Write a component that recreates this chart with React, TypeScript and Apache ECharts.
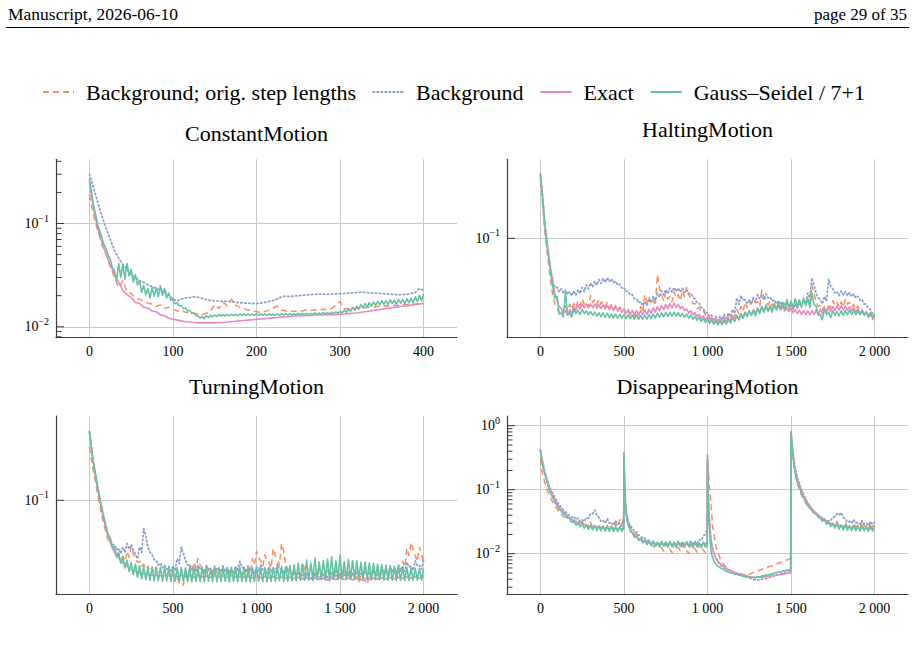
import React, { useEffect, useRef } from 'react';
import * as echarts from 'echarts';

const SERIF = '"Liberation Serif", "DejaVu Serif", serif';

const NAMES = ['Background; orig. step lengths', 'Background', 'Exact', 'Gauss\u2013Seidel / 7+1'];
const COLORS = ['#fc8d62', '#8da0cb', '#e78ac3', '#66c2a5'];

// uniform iteration grid
function steps(from: number, to: number, by: number): number[] {
  const out: number[] = [];
  for (let v = from; v <= to; v += by) out.push(v);
  return out;
}

// Noisy residuals are stored as the upper edge (at each sampled iteration) and
// the lower edge (halfway to the next sampled iteration) of their oscillation.

// ---------- ConstantMotion (iterations 0..400, every 5) ----------
const constantIter = steps(0, 400, 5);
const constantBgOrig = [
  0.19, 0.12, 0.085, 0.062, 0.05, 0.038, 0.03, 0.024, 0.028, 0.022,
  0.021, 0.019, 0.0185, 0.0175, 0.017, 0.0165, 0.0158, 0.0163, 0.015, 0.0155,
  0.0148, 0.0142, 0.0145, 0.0138, 0.0136, 0.0135, 0.0133, 0.0132, 0.0135, 0.0142,
  0.0165, 0.015, 0.0172, 0.016, 0.0185, 0.0162, 0.0155, 0.015, 0.0145, 0.0142,
  0.014, 0.0138, 0.014, 0.0145, 0.0152, 0.0158, 0.0145, 0.0142, 0.014, 0.0141,
  0.0143, 0.0142, 0.0145, 0.0144, 0.0146, 0.0145, 0.0148, 0.0146, 0.015, 0.0162,
  0.0175, 0.015, 0.0148, 0.015, 0.0152, 0.0151, 0.0153, 0.0155, 0.0154, 0.0158,
  0.0156, 0.016, 0.0158, 0.0162, 0.016, 0.0164, 0.0163, 0.0166, 0.0165, 0.0168,
  0.0172,
];
const constantBg = [
  0.30, 0.22, 0.16, 0.118, 0.09, 0.07, 0.055, 0.046, 0.04, 0.036,
  0.032, 0.03, 0.028, 0.027, 0.0255, 0.0245, 0.0235, 0.0225, 0.0215, 0.0205,
  0.0185, 0.0178, 0.0185, 0.019, 0.0192, 0.0195, 0.0193, 0.0188, 0.0183, 0.018,
  0.0178, 0.0177, 0.0177, 0.0176, 0.0175, 0.0173, 0.0171, 0.017, 0.0169, 0.0168,
  0.0168, 0.0169, 0.0172, 0.0176, 0.018, 0.0186, 0.0195, 0.0198, 0.0196, 0.0198,
  0.02, 0.0202, 0.0203, 0.0205, 0.0206, 0.0207, 0.0207, 0.0206, 0.0207, 0.0208,
  0.0209, 0.021, 0.0212, 0.0213, 0.0215, 0.0216, 0.0215, 0.0213, 0.0212, 0.0211,
  0.021, 0.0208, 0.0207, 0.0205, 0.0204, 0.0205, 0.0207, 0.021, 0.0215, 0.0235,
  0.0225,
];
const constantExact = [
  0.25, 0.14, 0.09, 0.066, 0.05, 0.04, 0.032, 0.027, 0.0225, 0.0205,
  0.0192, 0.0172, 0.0168, 0.0154, 0.0152, 0.0142, 0.014, 0.013, 0.0128, 0.0121,
  0.0118, 0.0116, 0.0114, 0.0112, 0.0111, 0.011, 0.0109, 0.0109, 0.0109, 0.0109,
  0.0109, 0.011, 0.011, 0.0111, 0.0112, 0.0113, 0.0114, 0.0115, 0.0116, 0.0117,
  0.0118, 0.0119, 0.012, 0.0121, 0.0122, 0.0123, 0.0124, 0.0125, 0.0126, 0.0127,
  0.0128, 0.0128, 0.0129, 0.0129, 0.013, 0.013, 0.013, 0.0131, 0.0131, 0.0131,
  0.0132, 0.0133, 0.0134, 0.0135, 0.0136, 0.0138, 0.014, 0.0142, 0.0144, 0.0146,
  0.0148, 0.015, 0.0152, 0.0154, 0.0156, 0.0158, 0.016, 0.0162, 0.0164, 0.0166,
  0.0168,
];
const constantGSHi = [
  0.27, 0.15, 0.098, 0.073, 0.057, 0.045, 0.035, 0.041, 0.04, 0.041,
  0.036, 0.032, 0.028, 0.0252, 0.0235, 0.024, 0.0238, 0.025, 0.0235, 0.0212,
  0.0183, 0.0171, 0.0161, 0.0152, 0.0144, 0.0136, 0.0128, 0.0126, 0.0128, 0.0129,
  0.013, 0.0131, 0.0131, 0.0132, 0.0132, 0.0132, 0.0133, 0.0133, 0.0133, 0.0133,
  0.0133, 0.0133, 0.0133, 0.0133, 0.0133, 0.0133, 0.0134, 0.0134, 0.0134, 0.0134,
  0.0135, 0.0135, 0.0135, 0.0135, 0.0136, 0.0136, 0.0137, 0.0137, 0.0138, 0.0139,
  0.0141, 0.0145, 0.0149, 0.0154, 0.0158, 0.0164, 0.0168, 0.0171, 0.0174, 0.0176,
  0.0179, 0.0179, 0.0182, 0.0181, 0.0184, 0.0183, 0.0187, 0.0188, 0.0195, 0.0202,
  0.0208,
];
const constantGSLo = [
  0.2, 0.12, 0.083, 0.062, 0.049, 0.037, 0.028, 0.03, 0.029, 0.031,
  0.027, 0.0255, 0.0215, 0.0203, 0.019, 0.0198, 0.0195, 0.0202, 0.019, 0.018,
  0.0167, 0.0159, 0.015, 0.0142, 0.0135, 0.0128, 0.0121, 0.012, 0.0123, 0.0125,
  0.0126, 0.0127, 0.0127, 0.0128, 0.0128, 0.0128, 0.0129, 0.0129, 0.0129, 0.0129,
  0.0129, 0.0129, 0.0129, 0.0129, 0.0129, 0.0129, 0.013, 0.013, 0.013, 0.013,
  0.0131, 0.0131, 0.0131, 0.0131, 0.0132, 0.0132, 0.0133, 0.0133, 0.0134, 0.0135,
  0.0136, 0.0138, 0.0141, 0.0144, 0.0148, 0.0152, 0.0155, 0.0158, 0.0161, 0.0163,
  0.0165, 0.0164, 0.0168, 0.0166, 0.0169, 0.0167, 0.017, 0.017, 0.0175, 0.0179,
  0.0185,
];

// ---------- HaltingMotion (iterations 0..2000, every 25) ----------
const haltingIter = steps(0, 2000, 25);
const haltingBgOrigHi = [
  0.36, 0.12, 0.055, 0.028, 0.0215, 0.021, 0.0225, 0.0235, 0.024, 0.0255,
  0.0265, 0.0245, 0.0285, 0.026, 0.0265, 0.025, 0.0245, 0.0235, 0.023, 0.0222,
  0.021, 0.0205, 0.0195, 0.020, 0.0225, 0.029, 0.0275, 0.026, 0.045, 0.029,
  0.0305, 0.028, 0.031, 0.029, 0.032, 0.034, 0.027, 0.024, 0.022, 0.0205,
  0.019, 0.0175, 0.017, 0.0172, 0.0178, 0.0185, 0.0195, 0.021, 0.0225, 0.0245,
  0.026, 0.0275, 0.025, 0.032, 0.026, 0.0255, 0.024, 0.0245, 0.0238, 0.0232,
  0.0235, 0.0245, 0.025, 0.0262, 0.028, 0.036, 0.025, 0.023, 0.0225, 0.024,
  0.0255, 0.0245, 0.0248, 0.0265, 0.0245, 0.0235, 0.0225, 0.021, 0.0195, 0.0185,
  0.0178,
];
const haltingBgOrigLo = [
  0.22, 0.08, 0.038, 0.0235, 0.0195, 0.019, 0.0205, 0.0212, 0.0218, 0.0228,
  0.0235, 0.0222, 0.0245, 0.0232, 0.0236, 0.0225, 0.022, 0.0212, 0.0208, 0.0201,
  0.019, 0.0186, 0.0178, 0.0182, 0.0198, 0.0245, 0.0238, 0.0228, 0.034, 0.0252,
  0.0265, 0.0248, 0.027, 0.0255, 0.0278, 0.029, 0.0238, 0.0215, 0.0198, 0.0186,
  0.0172, 0.016, 0.0155, 0.0156, 0.0161, 0.0168, 0.0177, 0.019, 0.0202, 0.0218,
  0.0232, 0.0242, 0.0225, 0.0275, 0.0232, 0.0228, 0.0216, 0.022, 0.0214, 0.0209,
  0.0211, 0.022, 0.0224, 0.0234, 0.0248, 0.03, 0.0224, 0.0207, 0.0203, 0.0215,
  0.0228, 0.022, 0.0222, 0.0236, 0.022, 0.0211, 0.0203, 0.019, 0.0177, 0.0168,
  0.0162,
];
const haltingBgHi = [
  0.41, 0.15, 0.065, 0.038, 0.034, 0.033, 0.032, 0.031, 0.0315, 0.0325,
  0.034, 0.036, 0.0375, 0.039, 0.0405, 0.0415, 0.042, 0.041, 0.039, 0.0365,
  0.034, 0.0315, 0.029, 0.0265, 0.025, 0.025, 0.0265, 0.028, 0.03, 0.0315,
  0.0325, 0.0335, 0.034, 0.0335, 0.0335, 0.0325, 0.03, 0.0265, 0.024, 0.0215,
  0.0195, 0.0185, 0.018, 0.0182, 0.0188, 0.0195, 0.021, 0.027, 0.0285, 0.026,
  0.0255, 0.027, 0.029, 0.0285, 0.0295, 0.0275, 0.026, 0.0255, 0.025, 0.0245,
  0.024, 0.0235, 0.0245, 0.026, 0.03, 0.042, 0.03, 0.026, 0.028, 0.041,
  0.033, 0.031, 0.0315, 0.031, 0.0305, 0.0295, 0.028, 0.026, 0.0235, 0.021,
  0.0195,
];
const haltingBgLo = [
  0.26, 0.1, 0.05, 0.034, 0.031, 0.030, 0.0292, 0.0284, 0.0288, 0.0297,
  0.0311, 0.033, 0.0344, 0.0358, 0.0372, 0.0381, 0.0386, 0.0377, 0.0358, 0.0335,
  0.0312, 0.0289, 0.0266, 0.0243, 0.0229, 0.0229, 0.0243, 0.0257, 0.0275, 0.0289,
  0.0298, 0.0307, 0.0312, 0.0307, 0.0307, 0.0298, 0.0275, 0.0243, 0.022, 0.0197,
  0.0179, 0.017, 0.0165, 0.0167, 0.0172, 0.0179, 0.0193, 0.0235, 0.0258, 0.0238,
  0.0234, 0.0247, 0.0265, 0.026, 0.027, 0.0252, 0.0238, 0.0234, 0.0229, 0.0224,
  0.022, 0.0215, 0.0224, 0.0238, 0.027, 0.036, 0.0272, 0.0238, 0.0254, 0.035,
  0.0302, 0.0284, 0.0289, 0.0284, 0.0279, 0.027, 0.0257, 0.0238, 0.0215, 0.0192,
  0.0179,
];
const haltingExactHi = [
  0.40, 0.145, 0.068, 0.037, 0.0255, 0.0215, 0.0205, 0.021, 0.0225, 0.0232,
  0.0237, 0.0238, 0.0238, 0.0236, 0.0234, 0.0232, 0.023, 0.0226, 0.0222, 0.0217,
  0.0212, 0.0209, 0.0206, 0.0205, 0.0205, 0.0207, 0.0211, 0.0217, 0.0223, 0.0229,
  0.0234, 0.0239, 0.0241, 0.0235, 0.0225, 0.0213, 0.0204, 0.0196, 0.0189, 0.0183,
  0.0178, 0.0173, 0.0171, 0.017, 0.0172, 0.0175, 0.018, 0.0185, 0.019, 0.0197,
  0.0204, 0.021, 0.0217, 0.0222, 0.0225, 0.0227, 0.0228, 0.0227, 0.0224, 0.022,
  0.0215, 0.021, 0.0207, 0.0205, 0.0204, 0.0205, 0.0207, 0.0211, 0.0216, 0.022,
  0.0224, 0.0227, 0.0228, 0.0227, 0.0223, 0.0218, 0.0211, 0.0205, 0.02, 0.0196,
  0.0193,
];
const haltingExactLo = [
  0.25, 0.095, 0.048, 0.029, 0.0222, 0.0195, 0.0185, 0.019, 0.0205, 0.0212,
  0.0216, 0.0218, 0.0218, 0.0216, 0.0214, 0.0212, 0.021, 0.0206, 0.0202, 0.0197,
  0.0193, 0.019, 0.0188, 0.0187, 0.0187, 0.0189, 0.0193, 0.0198, 0.0204, 0.0209,
  0.0213, 0.0218, 0.022, 0.0214, 0.0205, 0.0194, 0.0186, 0.0179, 0.0173, 0.0167,
  0.0162, 0.0158, 0.0156, 0.0155, 0.0157, 0.016, 0.0164, 0.0169, 0.0174, 0.018,
  0.0186, 0.0192, 0.0198, 0.0203, 0.0206, 0.0207, 0.0208, 0.0207, 0.0204, 0.02,
  0.0196, 0.0192, 0.0189, 0.0187, 0.0186, 0.0187, 0.0189, 0.0193, 0.0197, 0.0201,
  0.0205, 0.0207, 0.0208, 0.0207, 0.0204, 0.0199, 0.0193, 0.0187, 0.0183, 0.0179,
  0.0177,
];
const haltingGSHi = [
  0.40, 0.14, 0.065, 0.034, 0.028, 0.0195, 0.031, 0.0195, 0.0212, 0.0206,
  0.021, 0.0204, 0.0201, 0.0198, 0.0196, 0.0194, 0.0193, 0.0191, 0.019, 0.0189,
  0.0188, 0.0187, 0.0186, 0.0185, 0.0185, 0.0186, 0.0188, 0.019, 0.0193, 0.0195,
  0.0197, 0.0198, 0.0198, 0.0196, 0.0194, 0.019, 0.0186, 0.0181, 0.0177, 0.0173,
  0.0169, 0.0166, 0.0164, 0.0163, 0.0166, 0.017, 0.0176, 0.0183, 0.0192, 0.0198,
  0.0205, 0.0204, 0.0216, 0.0224, 0.0232, 0.0226, 0.0238, 0.0246, 0.0242, 0.026,
  0.0252, 0.0266, 0.026, 0.027, 0.0262, 0.03, 0.0225, 0.019, 0.0215, 0.0198,
  0.0204, 0.0201, 0.0204, 0.0206, 0.0207, 0.0205, 0.0206, 0.0202, 0.0198, 0.0193,
  0.019,
];
const haltingGSLo = [
  0.24, 0.09, 0.045, 0.027, 0.019, 0.0178, 0.0185, 0.0178, 0.0192, 0.0188,
  0.0192, 0.0187, 0.0184, 0.0181, 0.0179, 0.0177, 0.0176, 0.0175, 0.0174, 0.0173,
  0.0172, 0.0171, 0.017, 0.0169, 0.0169, 0.017, 0.0172, 0.0174, 0.0177, 0.0179,
  0.018, 0.0181, 0.0181, 0.0179, 0.0177, 0.0174, 0.017, 0.0166, 0.0162, 0.0158,
  0.0155, 0.0152, 0.015, 0.015, 0.0152, 0.0156, 0.0161, 0.0167, 0.0174, 0.0179,
  0.0184, 0.0183, 0.0192, 0.0197, 0.0202, 0.0197, 0.0206, 0.0212, 0.0208, 0.0222,
  0.0215, 0.0226, 0.022, 0.0228, 0.022, 0.0235, 0.0185, 0.0168, 0.0188, 0.0176,
  0.0185, 0.0182, 0.0185, 0.0187, 0.0188, 0.0186, 0.0187, 0.0184, 0.018, 0.0175,
  0.0172,
];

// ---------- TurningMotion (iterations 0..2000, every 25) ----------
const turningIter = steps(0, 2000, 25);
const turningBgOrigHi = [
  0.34, 0.19, 0.11, 0.068, 0.046, 0.037, 0.032, 0.029, 0.0275, 0.031,
  0.0345, 0.027, 0.0245, 0.023, 0.022, 0.021, 0.0215, 0.0198, 0.0205, 0.019,
  0.018, 0.0168, 0.0155, 0.0185, 0.0215, 0.024, 0.0262, 0.021, 0.0225, 0.020,
  0.021, 0.0198, 0.0222, 0.0205, 0.0212, 0.0198, 0.0202, 0.0215, 0.0208, 0.026,
  0.031, 0.025, 0.0285, 0.024, 0.033, 0.026, 0.037, 0.023, 0.0198, 0.0205,
  0.019, 0.024, 0.0195, 0.0215, 0.0185, 0.021, 0.0178, 0.0198, 0.0182, 0.020,
  0.0185, 0.0195, 0.018, 0.0192, 0.0172, 0.0178, 0.0158, 0.0182, 0.0195, 0.0182,
  0.0205, 0.019, 0.0215, 0.0195, 0.022, 0.0245, 0.033, 0.038, 0.028, 0.034,
  0.024,
];
const turningBgOrigLo = [
  0.25, 0.15, 0.09, 0.058, 0.04, 0.033, 0.0288, 0.026, 0.0245, 0.027,
  0.029, 0.024, 0.0218, 0.0205, 0.0195, 0.0187, 0.019, 0.0177, 0.0182, 0.017,
  0.016, 0.015, 0.0142, 0.0163, 0.0188, 0.021, 0.0225, 0.0186, 0.0198, 0.0178,
  0.0186, 0.0176, 0.0195, 0.0182, 0.0188, 0.0176, 0.0179, 0.019, 0.0184, 0.0225,
  0.0265, 0.0218, 0.0245, 0.021, 0.028, 0.0225, 0.031, 0.0202, 0.0176, 0.0182,
  0.0169, 0.0208, 0.0173, 0.019, 0.0165, 0.0186, 0.0159, 0.0176, 0.0162, 0.0177,
  0.0165, 0.0173, 0.016, 0.017, 0.0154, 0.0158, 0.0145, 0.0162, 0.0173, 0.0162,
  0.0182, 0.0169, 0.019, 0.0173, 0.0195, 0.0215, 0.028, 0.032, 0.0245, 0.029,
  0.0212,
];
const turningBgHi = [
  0.49, 0.235, 0.135, 0.082, 0.054, 0.041, 0.036, 0.033, 0.034, 0.037,
  0.036, 0.029, 0.034, 0.052, 0.034, 0.0285, 0.025, 0.0235, 0.0225, 0.0218,
  0.022, 0.026, 0.034, 0.025, 0.023, 0.0215, 0.0225, 0.021, 0.0222, 0.0208,
  0.022, 0.0212, 0.0218, 0.021, 0.0205, 0.022, 0.0245, 0.021, 0.0222, 0.0205,
  0.0215, 0.0225, 0.0208, 0.0215, 0.021, 0.0232, 0.0205, 0.0215, 0.0195, 0.0188,
  0.0192, 0.0178, 0.0185, 0.0172, 0.0188, 0.0175, 0.0182, 0.0172, 0.0188, 0.0178,
  0.0185, 0.0182, 0.0192, 0.0185, 0.0195, 0.0188, 0.0198, 0.0192, 0.0205, 0.0198,
  0.021, 0.0202, 0.0215, 0.0208, 0.0225, 0.0215, 0.024, 0.022, 0.0248, 0.0225,
  0.0252,
];
const turningBgLo = [
  0.33, 0.18, 0.106, 0.067, 0.046, 0.036, 0.032, 0.0295, 0.0302, 0.0325,
  0.0318, 0.026, 0.0302, 0.044, 0.0302, 0.0255, 0.0225, 0.0212, 0.0203, 0.0197,
  0.0198, 0.0232, 0.0295, 0.0225, 0.0207, 0.0194, 0.0203, 0.019, 0.02, 0.0188,
  0.0198, 0.0191, 0.0197, 0.019, 0.0185, 0.0198, 0.0215, 0.019, 0.02, 0.0185,
  0.0194, 0.0202, 0.0188, 0.0194, 0.019, 0.0206, 0.0185, 0.0194, 0.0177, 0.0171,
  0.0174, 0.0162, 0.0168, 0.0157, 0.0171, 0.0159, 0.0165, 0.0157, 0.0171, 0.0162,
  0.0168, 0.0165, 0.0174, 0.0168, 0.0177, 0.0171, 0.018, 0.0174, 0.0186, 0.018,
  0.019, 0.0183, 0.0195, 0.0189, 0.0203, 0.0195, 0.0215, 0.0199, 0.0222, 0.0204,
  0.0225,
];
const turningExact = [
  0.48, 0.228, 0.128, 0.078, 0.051, 0.038, 0.030, 0.0265, 0.0237, 0.022,
  0.0204, 0.0195, 0.0188, 0.0183, 0.0180, 0.0178, 0.0177, 0.0176, 0.0176, 0.0175,
  0.0178, 0.0172, 0.0177, 0.0171, 0.0176, 0.0170, 0.0176, 0.0171, 0.0175, 0.0170,
  0.0176, 0.0170, 0.0175, 0.0169, 0.0176, 0.0170, 0.0174, 0.0169, 0.0175, 0.0168,
  0.0174, 0.0168, 0.0173, 0.0167, 0.0172, 0.0166, 0.0171, 0.0165, 0.0170, 0.0164,
  0.0169, 0.0163, 0.0168, 0.0162, 0.0167, 0.0161, 0.0166, 0.0160, 0.0166, 0.0161,
  0.0167, 0.0161, 0.0166, 0.0160, 0.0165, 0.0160, 0.0166, 0.0161, 0.0167, 0.0162,
  0.0168, 0.0163, 0.0169, 0.0164, 0.0170, 0.0165, 0.0171, 0.0166, 0.0172, 0.0167,
  0.0172,
];
const turningGSHi = [
  0.49, 0.235, 0.135, 0.082, 0.055, 0.042, 0.034, 0.03, 0.0272, 0.0252,
  0.0238, 0.023, 0.0222, 0.0218, 0.0214, 0.0216, 0.0213, 0.0215, 0.0212, 0.0214,
  0.0216, 0.0212, 0.0214, 0.0211, 0.0215, 0.0212, 0.021, 0.0214, 0.0213, 0.0209,
  0.0212, 0.021, 0.0208, 0.0212, 0.0214, 0.021, 0.0215, 0.0211, 0.0208, 0.0211,
  0.0215, 0.021, 0.0212, 0.0214, 0.0213, 0.0216, 0.0219, 0.0217, 0.0223, 0.0226,
  0.0235, 0.0228, 0.0252, 0.0237, 0.0265, 0.0243, 0.025, 0.0258, 0.0272, 0.0248,
  0.0284, 0.0244, 0.0256, 0.025, 0.025, 0.0239, 0.0241, 0.0237, 0.0235, 0.023,
  0.0228, 0.0225, 0.0222, 0.022, 0.0216, 0.0215, 0.0213, 0.0211, 0.0209, 0.0208,
  0.0206,
];
const turningGSLo = [
  0.33, 0.175, 0.104, 0.065, 0.045, 0.034, 0.027, 0.0235, 0.021, 0.0194,
  0.018, 0.017, 0.0164, 0.016, 0.0158, 0.0157, 0.0156, 0.0155, 0.0156, 0.0154,
  0.0155, 0.0153, 0.0155, 0.0154, 0.0153, 0.0155, 0.0154, 0.0153, 0.0155, 0.0154,
  0.0153, 0.0154, 0.0155, 0.0153, 0.0154, 0.0153, 0.0155, 0.0154, 0.0153, 0.0154,
  0.0155, 0.0154, 0.0153, 0.0154, 0.0155, 0.0156, 0.0154, 0.0155, 0.0156, 0.0157,
  0.0158, 0.0159, 0.016, 0.0161, 0.0162, 0.0162, 0.0163, 0.0162, 0.0163, 0.0164,
  0.0164, 0.0163, 0.0164, 0.0163, 0.0162, 0.0162, 0.0161, 0.0161, 0.016, 0.016,
  0.0159, 0.0159, 0.0158, 0.0158, 0.0158, 0.0157, 0.0158, 0.0158, 0.0159, 0.0159,
  0.016,
];

// ---------- DisappearingMotion (denser sampling around the restarts) ----------
const disappearingIter = [
  0, 10, 20, 30, 40, 50, 75, 100, 125, 150, 175, 200, 225, 250, 275, 300, 325, 350, 375, 400, 425, 450, 475, 498,
  500, 505, 510, 520, 530, 550, 575, 600, 625, 650, 675, 700, 725, 750, 775, 800, 825, 850, 875, 900, 925, 950, 975, 998,
  1000, 1005, 1010, 1020, 1030, 1050, 1075, 1100, 1125, 1150, 1175, 1200, 1225, 1250, 1275, 1300, 1325, 1350, 1375, 1400, 1425, 1450, 1475, 1498,
  1500, 1505, 1510, 1520, 1530, 1550, 1575, 1600, 1625, 1650, 1675, 1700, 1725, 1750, 1775, 1800, 1825, 1850, 1875, 1900, 1925, 1950, 1975, 2000,
];
const disappearingBgOrigHi = [
  0.30, 0.19, 0.15, 0.12, 0.1, 0.085, 0.063, 0.05, 0.042, 0.037, 0.034, 0.031, 0.03, 0.032, 0.028, 0.031, 0.027, 0.029, 0.026, 0.028, 0.027, 0.03, 0.034, 0.036,
  0.30, 0.12, 0.06, 0.038, 0.03, 0.024, 0.02, 0.0175, 0.0155, 0.0165, 0.0135, 0.015, 0.0125, 0.0145, 0.0118, 0.0148, 0.0125, 0.014, 0.0112, 0.0145, 0.012, 0.0142, 0.0115, 0.0135,
  0.28, 0.2, 0.12, 0.06, 0.028, 0.013, 0.0085, 0.0066, 0.0058, 0.0053, 0.005, 0.0048, 0.0047, 0.0048, 0.0051, 0.0054, 0.0057, 0.006, 0.0064, 0.0067, 0.0071, 0.0075, 0.008, 0.0084,
  0.75, 0.5, 0.35, 0.22, 0.15, 0.1, 0.07, 0.056, 0.047, 0.04, 0.036, 0.033, 0.031, 0.029, 0.032, 0.028, 0.031, 0.027, 0.03, 0.028, 0.033, 0.027, 0.031, 0.028,
];
const disappearingBgOrigLo = [
  0.23, 0.165, 0.133, 0.108, 0.092, 0.072, 0.055, 0.045, 0.038, 0.034, 0.031, 0.0275, 0.027, 0.0265, 0.025, 0.0255, 0.024, 0.025, 0.0235, 0.024, 0.024, 0.026, 0.029, 0.036,
  0.2, 0.09, 0.047, 0.033, 0.026, 0.021, 0.0178, 0.0158, 0.0135, 0.0138, 0.0118, 0.0128, 0.011, 0.0124, 0.0104, 0.0126, 0.011, 0.012, 0.0101, 0.0124, 0.0106, 0.0121, 0.0104, 0.0135,
  0.24, 0.16, 0.09, 0.042, 0.019, 0.0105, 0.0075, 0.0062, 0.0055, 0.0051, 0.0049, 0.0047, 0.0047, 0.0049, 0.0052, 0.0055, 0.0058, 0.0062, 0.0065, 0.0069, 0.0073, 0.0077, 0.0082, 0.0084,
  0.6, 0.42, 0.28, 0.18, 0.12, 0.083, 0.062, 0.051, 0.043, 0.037, 0.033, 0.029, 0.027, 0.026, 0.027, 0.025, 0.026, 0.024, 0.026, 0.025, 0.027, 0.024, 0.026, 0.025,
];
const disappearingBgHi = [
  0.42, 0.3, 0.23, 0.18, 0.145, 0.12, 0.085, 0.065, 0.053, 0.045, 0.04, 0.038, 0.036, 0.034, 0.037, 0.042, 0.048, 0.037, 0.033, 0.035, 0.031, 0.033, 0.03, 0.031,
  0.38, 0.1, 0.055, 0.036, 0.03, 0.025, 0.022, 0.019, 0.0175, 0.016, 0.0155, 0.015, 0.0148, 0.0152, 0.0145, 0.015, 0.0148, 0.0155, 0.0147, 0.016, 0.015, 0.0165, 0.019, 0.024,
  0.36, 0.07, 0.035, 0.018, 0.012, 0.0085, 0.0068, 0.006, 0.0055, 0.0052, 0.0049, 0.0046, 0.0044, 0.0042, 0.004, 0.0039, 0.004, 0.0041, 0.0043, 0.0045, 0.0047, 0.005, 0.0052, 0.0054,
  0.80, 0.55, 0.40, 0.26, 0.19, 0.125, 0.085, 0.062, 0.05, 0.042, 0.036, 0.035, 0.033, 0.037, 0.042, 0.044, 0.035, 0.032, 0.034, 0.031, 0.033, 0.03, 0.032, 0.031,
];
const disappearingBgLo = [
  0.36, 0.26, 0.2, 0.16, 0.132, 0.1, 0.074, 0.058, 0.048, 0.041, 0.037, 0.034, 0.032, 0.032, 0.036, 0.042, 0.04, 0.032, 0.03, 0.03, 0.028, 0.029, 0.027, 0.03,
  0.18, 0.075, 0.043, 0.031, 0.027, 0.022, 0.0195, 0.0172, 0.0158, 0.0145, 0.0139, 0.0134, 0.0135, 0.0134, 0.0132, 0.0134, 0.0135, 0.0137, 0.0135, 0.0142, 0.0142, 0.016, 0.02, 0.024,
  0.12, 0.045, 0.024, 0.014, 0.0098, 0.0075, 0.0064, 0.0057, 0.0053, 0.005, 0.0047, 0.0045, 0.0043, 0.0041, 0.0039, 0.0039, 0.004, 0.0042, 0.0044, 0.0046, 0.0048, 0.0051, 0.0053, 0.0054,
  0.66, 0.47, 0.32, 0.22, 0.15, 0.1, 0.072, 0.055, 0.045, 0.038, 0.034, 0.032, 0.033, 0.038, 0.04, 0.037, 0.031, 0.03, 0.03, 0.029, 0.029, 0.028, 0.029, 0.028,
];
const disappearingExact = [
  0.41, 0.28, 0.21, 0.17, 0.14, 0.115, 0.078, 0.06, 0.048, 0.041, 0.036, 0.033, 0.031, 0.0295, 0.028, 0.027, 0.0265, 0.026, 0.0255, 0.0252, 0.025, 0.0248, 0.0246, 0.0245,
  0.33, 0.095, 0.052, 0.033, 0.026, 0.021, 0.018, 0.0165, 0.0156, 0.015, 0.0146, 0.0143, 0.0144, 0.014, 0.0143, 0.0139, 0.0142, 0.0139, 0.0142, 0.0138, 0.0141, 0.0139, 0.0142, 0.0145,
  0.30, 0.08, 0.04, 0.017, 0.012, 0.0085, 0.007, 0.0062, 0.0057, 0.0053, 0.005, 0.0048, 0.0046, 0.0044, 0.0043, 0.0043, 0.0043, 0.0044, 0.0045, 0.0046, 0.0047, 0.0048, 0.0049, 0.005,
  0.80, 0.56, 0.40, 0.25, 0.175, 0.115, 0.08, 0.062, 0.05, 0.043, 0.038, 0.034, 0.031, 0.029, 0.028, 0.027, 0.0265, 0.026, 0.0255, 0.025, 0.025, 0.0248, 0.0247, 0.0246,
];
const disappearingGSHi = [
  0.41, 0.27, 0.2, 0.16, 0.13, 0.105, 0.074, 0.057, 0.047, 0.041, 0.0365, 0.033, 0.031, 0.0295, 0.0285, 0.0278, 0.0278, 0.0272, 0.0273, 0.0268, 0.027, 0.0265, 0.0268, 0.0264,
  0.33, 0.09, 0.05, 0.033, 0.027, 0.0215, 0.019, 0.0172, 0.0163, 0.0157, 0.0158, 0.0152, 0.0157, 0.015, 0.0156, 0.0149, 0.0157, 0.0148, 0.0155, 0.0149, 0.0156, 0.0148, 0.0153, 0.0158,
  0.30, 0.06, 0.03, 0.0115, 0.0088, 0.0069, 0.0061, 0.0056, 0.0052, 0.005, 0.0048, 0.0046, 0.0044, 0.0043, 0.0043, 0.0044, 0.0045, 0.0047, 0.0048, 0.005, 0.0052, 0.0054, 0.0056, 0.0057,
  0.80, 0.52, 0.36, 0.22, 0.155, 0.108, 0.075, 0.059, 0.049, 0.042, 0.037, 0.034, 0.0315, 0.03, 0.0292, 0.0282, 0.0282, 0.0275, 0.0278, 0.027, 0.0275, 0.0268, 0.0272, 0.0268,
];
const disappearingGSLo = [
  0.33, 0.23, 0.18, 0.145, 0.117, 0.086, 0.062, 0.049, 0.041, 0.036, 0.031, 0.0282, 0.0265, 0.025, 0.024, 0.0235, 0.023, 0.0227, 0.0225, 0.0223, 0.0223, 0.0221, 0.0222, 0.024,
  0.15, 0.065, 0.038, 0.028, 0.022, 0.018, 0.0162, 0.0148, 0.014, 0.0133, 0.0132, 0.0128, 0.0131, 0.0126, 0.013, 0.0125, 0.013, 0.0124, 0.0129, 0.0125, 0.0129, 0.0124, 0.0128, 0.014,
  0.12, 0.04, 0.018, 0.0098, 0.0076, 0.0064, 0.0058, 0.0053, 0.005, 0.0048, 0.0046, 0.0044, 0.0043, 0.0042, 0.0042, 0.0043, 0.0045, 0.0046, 0.0048, 0.005, 0.0052, 0.0054, 0.0055, 0.0056,
  0.64, 0.43, 0.28, 0.185, 0.125, 0.088, 0.064, 0.051, 0.043, 0.037, 0.032, 0.029, 0.0268, 0.0252, 0.0242, 0.0236, 0.0234, 0.023, 0.0229, 0.0227, 0.0228, 0.0226, 0.0227, 0.0225,
];

// log-axis tick positions
const ticksConstantMajor = [0.01, 0.1];
const ticksConstantMinor = [0.008, 0.009, 0.02, 0.03, 0.04, 0.05, 0.06, 0.07, 0.08, 0.09, 0.2, 0.3, 0.4];
const ticksSingleMajor = [0.1];
const ticksDisappearingMajor = [0.01, 0.1, 1];
const ticksDisappearingMinor = [
  0.003, 0.004, 0.005, 0.006, 0.007, 0.008, 0.009,
  0.02, 0.03, 0.04, 0.05, 0.06, 0.07, 0.08, 0.09,
  0.2, 0.3, 0.4, 0.5, 0.6, 0.7, 0.8, 0.9,
];

type Curve = { hi: number[]; lo?: number[] };
type Panel = {
  title: string;
  iter: number[];
  curves: Curve[];
  xRange: [number, number];
  yRange: [number, number];
  major: number[];
  minor: number[];
  box: { left: number; top: number; width: number; height: number };
  titleY: number;
};

const panels: Panel[] = [
  {
    title: 'ConstantMotion', iter: constantIter,
    curves: [
      { hi: constantBgOrig }, { hi: constantBg }, { hi: constantExact },
      { hi: constantGSHi, lo: constantGSLo },
    ],
    xRange: [-40, 440], yRange: [0.007834, 0.4188],
    major: ticksConstantMajor, minor: ticksConstantMinor,
    box: { left: 56, top: 159.3, width: 401, height: 178.4 }, titleY: 133,
  },
  {
    title: 'HaltingMotion', iter: haltingIter,
    curves: [
      { hi: haltingBgOrigHi, lo: haltingBgOrigLo }, { hi: haltingBgHi, lo: haltingBgLo },
      { hi: haltingExactHi, lo: haltingExactLo }, { hi: haltingGSHi, lo: haltingGSLo },
    ],
    xRange: [-200, 2200], yRange: [0.01131, 0.5654],
    major: ticksSingleMajor, minor: [],
    box: { left: 507, top: 159.3, width: 401, height: 178.4 }, titleY: 129,
  },
  {
    title: 'TurningMotion', iter: turningIter,
    curves: [
      { hi: turningBgOrigHi, lo: turningBgOrigLo }, { hi: turningBgHi, lo: turningBgLo },
      { hi: turningExact }, { hi: turningGSHi, lo: turningGSLo },
    ],
    xRange: [-200, 2200], yRange: [0.01148, 0.6966],
    major: ticksSingleMajor, minor: [],
    box: { left: 56, top: 416, width: 401, height: 178.3 }, titleY: 386,
  },
  {
    title: 'DisappearingMotion', iter: disappearingIter,
    curves: [
      { hi: disappearingBgOrigHi, lo: disappearingBgOrigLo }, { hi: disappearingBgHi, lo: disappearingBgLo },
      { hi: disappearingExact }, { hi: disappearingGSHi, lo: disappearingGSLo },
    ],
    xRange: [-200, 2200], yRange: [0.002323, 1.419],
    major: ticksDisappearingMajor, minor: ticksDisappearingMinor,
    box: { left: 507, top: 416, width: 401, height: 178.3 }, titleY: 386,
  },
];

const AXIS_COLOR = '#3c3c3c';
const GRID_COLOR = '#c9c9c9';

const lineTypes: any[] = [
  { type: [6, 4], cap: 'butt', width: 1.5 },
  { type: [1.3, 2.7], cap: 'round', width: 1.8 },
  { type: 'solid', cap: 'butt', width: 1.6 },
  { type: 'solid', cap: 'butt', width: 1.6 },
];

// polyline through the upper edge at each sample and the lower edge between samples
function curvePoints(iter: number[], c: Curve): number[][] {
  const pts: number[][] = [];
  iter.forEach((x, j) => {
    pts.push([x, c.hi[j]]);
    if (c.lo && j < iter.length - 1) pts.push([(x + iter[j + 1]) / 2, c.lo[j]]);
  });
  return pts;
}

function formatIter(v: number): string {
  if (v >= 1000) return `${Math.floor(v / 1000)} ${String(v % 1000).padStart(3, '0')}`;
  return String(v);
}

function formatPow(v: number): string {
  const e = Math.round(Math.log10(v));
  return `{b|10}{s|${e < 0 ? '\u2212' : ''}${Math.abs(e)}}`;
}

function buildOption() {
  const grid = panels.map((p) => ({ ...p.box, containLabel: false, outerBoundsMode: 'none' }));
  const xAxis = panels.map((p, i) => ({
    type: 'value', gridIndex: i, min: p.xRange[0], max: p.xRange[1], splitNumber: 5,
    axisLine: { show: true, onZero: false, lineStyle: { color: AXIS_COLOR, width: 1.2 } },
    axisTick: { show: false },
    splitLine: { show: true, showMinLine: false, showMaxLine: false, lineStyle: { color: GRID_COLOR, width: 1 } },
    axisLabel: {
      showMinLabel: false, showMaxLabel: false, margin: 7,
      color: '#000', fontFamily: SERIF, fontSize: 14, formatter: formatIter,
    },
  }));
  const yAxis = panels.map((p, i) => ({
    type: 'log', logBase: 10, gridIndex: i, min: p.yRange[0], max: p.yRange[1],
    axisLine: { show: true, onZero: false, lineStyle: { color: AXIS_COLOR, width: 1.2 } },
    axisTick: { show: false },
    splitLine: { show: true, showMinLine: false, showMaxLine: false, lineStyle: { color: GRID_COLOR, width: 1 } },
    axisLabel: {
      showMinLabel: false, showMaxLabel: false, margin: 7, formatter: formatPow,
      rich: {
        b: { fontFamily: SERIF, fontSize: 14, color: '#000' },
        s: { fontFamily: SERIF, fontSize: 10, color: '#000', padding: [0, 0, 11, 0] },
      },
    },
  }));

  const series: any[] = [];
  panels.forEach((p, i) => {
    p.curves.forEach((c, k) => {
      series.push({
        type: 'line', name: NAMES[k], xAxisIndex: i, yAxisIndex: i,
        data: curvePoints(p.iter, c),
        showSymbol: false, symbol: 'none', z: 2 + k,
        lineStyle: { color: COLORS[k], join: 'round', ...lineTypes[k] },
        itemStyle: { color: COLORS[k] },
        emphasis: { disabled: true },
      });
    });
    // log ticks (major and minor) drawn inward from the left axis line
    const tickData = [
      ...p.major.map((v) => [p.xRange[0], v, 1]),
      ...p.minor.map((v) => [p.xRange[0], v, 0]),
    ];
    series.push({
      type: 'custom', xAxisIndex: i, yAxisIndex: i, silent: true, z: 10, clip: false,
      data: tickData, encode: { x: 0, y: 1 },
      renderItem: (_params: any, api: any) => {
        const pt = api.coord([api.value(0), api.value(1)]);
        const len = api.value(2) ? 8 : 5.5;
        return {
          type: 'line',
          shape: { x1: pt[0], y1: pt[1], x2: pt[0] + len, y2: pt[1] },
          style: { stroke: AXIS_COLOR, lineWidth: 1 },
        };
      },
    });
  });

  const label = (text: string, x: number, y: number, size: number, align: string) => ({
    type: 'text', x, y, silent: true,
    style: {
      text, fontFamily: SERIF, fontSize: size, fill: '#000',
      align, textAlign: align, verticalAlign: 'middle', textVerticalAlign: 'middle',
    },
  });

  const graphic: any[] = [
    label('Manuscript, 2026-06-10', 8, 14, 17.5, 'left'),
    label('page 29 of 35', 907, 14, 17, 'right'),
    { type: 'line', silent: true, shape: { x1: 6, y1: 27.5, x2: 909, y2: 27.5 }, style: { stroke: '#000', lineWidth: 1 } },
    ...panels.map((p) => label(p.title, p.box.left + p.box.width / 2, p.titleY, 22, 'center')),
  ];

  return {
    animation: false,
    backgroundColor: '#fff',
    textStyle: { fontFamily: SERIF },
    legend: {
      data: NAMES, left: 37, top: 76, selectedMode: false,
      itemWidth: 31, itemHeight: 12, itemGap: 16,
      itemStyle: { opacity: 0, borderWidth: 0 },
      lineStyle: { width: 2 },
      textStyle: { fontFamily: SERIF, fontSize: 22, color: '#000', padding: [0, 0, 0, 7] },
    },
    grid, xAxis, yAxis, series, graphic,
  };
}

export default function App() {
  const ref = useRef<HTMLDivElement>(null);
  useEffect(() => {
    if (!ref.current) return;
    const chart = echarts.init(ref.current, undefined, { renderer: 'svg' });
    chart.setOption(buildOption() as any);
    return () => chart.dispose();
  }, []);
  return (
    <div
      ref={ref}
      style={{ position: 'fixed', left: 0, top: 0, width: 915, height: 652, background: '#fff' }}
    />
  );
}
